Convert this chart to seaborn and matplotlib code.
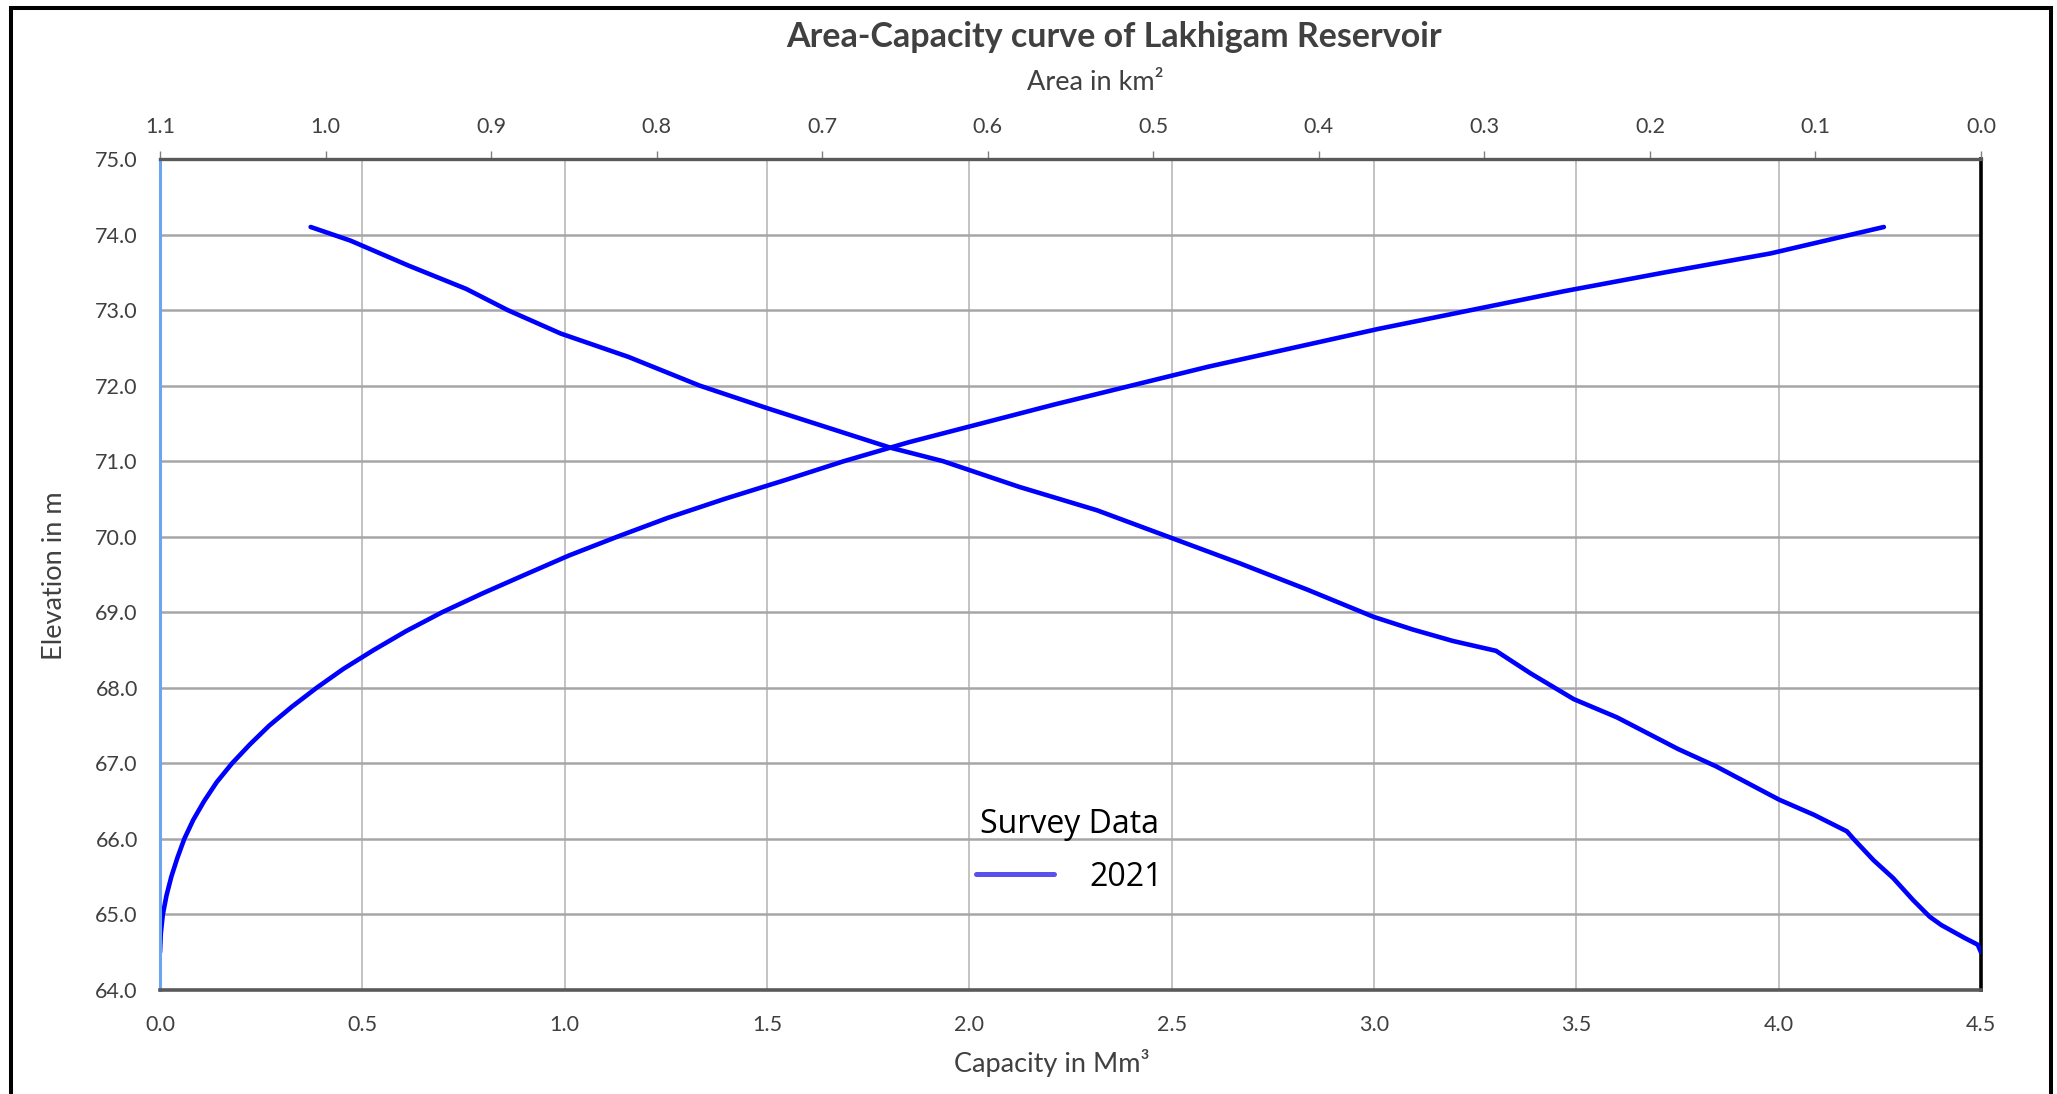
import matplotlib
matplotlib.use("Agg")
import numpy as np
import pandas as pd
import seaborn as sns
import matplotlib.pyplot as plt
from matplotlib.lines import Line2D
from matplotlib.patches import Rectangle
from matplotlib.font_manager import FontProperties

# ---------------- data ----------------
cap_elevation = [64.50, 64.75, 65.00, 65.25, 65.50, 65.75, 66.00, 66.25, 66.50, 66.75,
                 67.00, 67.25, 67.50, 67.75, 68.00, 68.25, 68.50, 68.75, 69.00, 69.25,
                 69.50, 69.75, 70.00, 70.25, 70.50, 70.75, 71.00, 71.25, 71.50, 71.75,
                 72.00, 72.25, 72.50, 72.75, 73.00, 73.25, 73.50, 73.75, 74.00, 74.10]
capacity_mm3 = [0.000, 0.002, 0.007, 0.016, 0.028, 0.043, 0.060, 0.082, 0.109, 0.140,
                0.178, 0.222, 0.270, 0.326, 0.387, 0.453, 0.528, 0.608, 0.697, 0.797,
                0.903, 1.010, 1.130, 1.255, 1.395, 1.545, 1.690, 1.850, 2.030, 2.210,
                2.400, 2.590, 2.800, 3.010, 3.240, 3.470, 3.720, 3.980, 4.180, 4.260]

area_elevation = [64.50, 64.60, 64.69, 64.86, 64.97, 65.19, 65.48, 65.72, 66.00, 66.10,
                  66.32, 66.52, 66.96, 67.19, 67.61, 67.85, 68.19, 68.49, 68.62, 68.77,
                  68.94, 69.30, 69.65, 70.00, 70.35, 70.66, 71.00, 71.18, 71.70, 72.00,
                  72.38, 72.69, 73.00, 73.28, 73.59, 73.92, 74.10]
area_km2 = [0.000, 0.002, 0.010, 0.024, 0.031, 0.041, 0.053, 0.065, 0.077, 0.081,
            0.101, 0.122, 0.160, 0.183, 0.220, 0.246, 0.272, 0.293, 0.319, 0.343,
            0.367, 0.407, 0.448, 0.491, 0.534, 0.581, 0.627, 0.659, 0.733, 0.774,
            0.817, 0.858, 0.890, 0.915, 0.950, 0.985, 1.009]

capacity_ticks = [0.0, 0.5, 1.0, 1.5, 2.0, 2.5, 3.0, 3.5, 4.0, 4.5]
area_ticks = [1.1, 1.0, 0.9, 0.8, 0.7, 0.6, 0.5, 0.4, 0.3, 0.2, 0.1, 0.0]
elevation_ticks = [64, 65, 66, 67, 68, 69, 70, 71, 72, 73, 74, 75]

title_text = "Area-Capacity curve of Lakhigam Reservoir"
legend_title = "Survey Data"
legend_label = "2021"

# ---------------- styling ----------------
sns.set_theme(style="white")
plt.rcParams["font.family"] = ["Lato", "DejaVu Sans"]

W, H = 2057, 1094
fig = plt.figure(figsize=(W / 100, H / 100), dpi=100)
fig.patch.set_facecolor("white")

L, R, T, B = 160, 1981, 159, 990
ax = fig.add_axes([L / W, 1 - B / H, (R - L) / W, (B - T) / H])

df_cap = pd.DataFrame({"Capacity": capacity_mm3, "Elevation": cap_elevation})
df_area = pd.DataFrame({"Area": area_km2, "Elevation": area_elevation})

line_blue = "#0000FF"
sns.lineplot(data=df_cap, x="Capacity", y="Elevation", sort=False, estimator=None,
             color=line_blue, linewidth=3.3, ax=ax)
for ln in ax.lines:
    ln.set_solid_joinstyle("round")
    ln.set_solid_capstyle("round")

ax2 = ax.twiny()
sns.lineplot(data=df_area, x="Area", y="Elevation", sort=False, estimator=None,
             color=line_blue, linewidth=3.3, ax=ax2)
for ln in ax2.lines:
    ln.set_solid_joinstyle("round")
    ln.set_solid_capstyle("round")

ax.set_xlim(0, 4.5)
ax.set_ylim(64, 75)
ax2.set_xlim(1.1, 0.0)
ax2.set_ylim(64, 75)

ax.set_xticks(capacity_ticks)
ax.set_xticklabels([f"{v:.1f}" for v in capacity_ticks])
ax.set_yticks(elevation_ticks)
ax.set_yticklabels([f"{v:.1f}" for v in elevation_ticks])
ax2.set_xticks(area_ticks)
ax2.set_xticklabels([f"{v:.1f}" for v in area_ticks])

ax.set_xlabel("")
ax.set_ylabel("")
ax2.set_xlabel("")
ax2.set_ylabel("")

# grid
ax.set_axisbelow(True)
ax.grid(True, axis="x", color="#B3B3B3", linewidth=1.1)
ax.grid(True, axis="y", color="#A6A6A6", linewidth=1.8)
ax2.grid(False)

txt_col = "#404040"
tick_fs = 15.5
ax.tick_params(axis="x", length=0, pad=18, labelsize=tick_fs, labelcolor=txt_col)
ax.tick_params(axis="y", direction="in", length=5, width=1.5, color="#6AA6F0",
               pad=16, labelsize=tick_fs, labelcolor=txt_col)
ax2.tick_params(axis="x", direction="out", length=5.5, width=1.0, color="#808080",
                pad=10, labelsize=tick_fs, labelcolor=txt_col)

for s in ["top", "bottom", "left", "right"]:
    ax2.spines[s].set_visible(False)
ax2.spines["top"].set_visible(True)
ax2.spines["top"].set_color("#595959")
ax2.spines["top"].set_linewidth(2.4)

ax.spines["top"].set_visible(False)
ax.spines["bottom"].set_color("#595959")
ax.spines["bottom"].set_linewidth(2.6)
ax.spines["right"].set_color("black")
ax.spines["right"].set_linewidth(2.6)
ax.spines["left"].set_color("#6AA6F0")
ax.spines["left"].set_linewidth(2.2)

# texts
fig.text(1114 / W, 1 - 37 / H, title_text, ha="center", va="center",
         fontsize=24.5, fontweight="bold", color=txt_col)
fig.text(1095 / W, 1 - 82 / H, "Area in km\u00b2", ha="center", va="center",
         fontsize=19.5, color=txt_col)
fig.text(1052 / W, 1 - 1063 / H, "Capacity in Mm\u00b3", ha="center", va="center",
         fontsize=19.5, color=txt_col)
fig.text(55 / W, 1 - 576 / H, "Elevation in m", ha="center", va="center",
         rotation=90, fontsize=19.5, color=txt_col)

# legend
leg_font = FontProperties(family="Open Sans", size=23)
handle = Line2D([], [], color="#5A50F0", linewidth=3.6)
leg = ax.legend(handles=[handle], labels=[legend_label], title=legend_title,
                prop=leg_font, title_fontproperties=leg_font, frameon=False,
                loc="center", bbox_to_anchor=(1069 / W, 1 - 851 / H),
                bbox_transform=fig.transFigure, borderpad=0, handlelength=2.45,
                handletextpad=1.1, labelspacing=0.6)
for t in leg.get_texts():
    t.set_color("black")
leg.get_title().set_color("black")

# outer chart frame
fig.add_artist(Rectangle((11 / W, -0.05), (2051 - 11) / W, 1.05 - 8 / H,
                         transform=fig.transFigure, fill=False,
                         edgecolor="black", linewidth=2.9, clip_on=False))

fig.savefig("out.png", dpi=100, facecolor="white")
